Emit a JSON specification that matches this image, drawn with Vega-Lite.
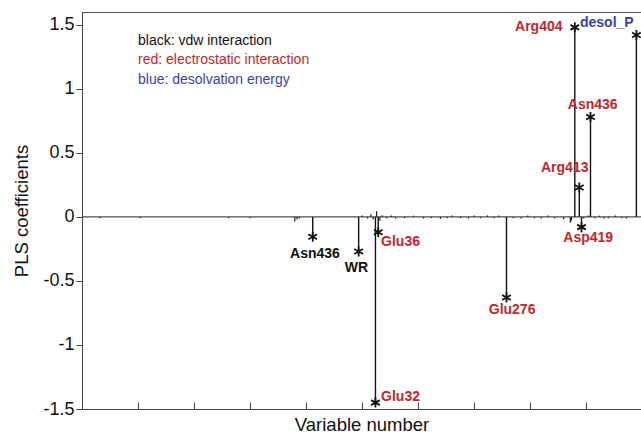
{
  "$schema": "https://vega.github.io/schema/vega-lite/v6.json",
  "width": 559,
  "height": 397,
  "autosize": "none",
  "padding": {"left": 82, "top": 12, "right": 0, "bottom": 27},
  "background": "white",
  "config": {
    "view": {"stroke": "#555", "strokeWidth": 1},
    "font": "Liberation Sans",
    "axis": {"grid": false, "domainColor": "#444", "tickColor": "#444", "labelColor": "#111", "titleColor": "#111", "titleFontWeight": "normal", "titleFont": "Liberation Sans", "labelFont": "Liberation Sans"}
  },
  "datasets": {
    "stems": [
      {"v": 206, "coef": -0.155, "name": "Asn436"},
      {"v": 247, "coef": -0.27, "name": "WR"},
      {"v": 262, "coef": -1.45, "name": "Glu32"},
      {"v": 264.5, "coef": -0.12, "name": "Glu36"},
      {"v": 379, "coef": -0.63, "name": "Glu276"},
      {"v": 440, "coef": 1.48, "name": "Arg404"},
      {"v": 444, "coef": 0.23, "name": "Arg413"},
      {"v": 446, "coef": -0.08, "name": "Asp419"},
      {"v": 454, "coef": 0.78, "name": "Asn436"},
      {"v": 495, "coef": 1.42, "name": "desol_P"}
    ],
    "noise": [
      {"v": 16, "coef": -0.01}, {"v": 52, "coef": -0.01}, {"v": 131, "coef": -0.01}, {"v": 150, "coef": -0.01},
      {"v": 190, "coef": -0.035}, {"v": 192, "coef": -0.02}, {"v": 194, "coef": -0.012},
      {"v": 250, "coef": 0.01}, {"v": 255, "coef": -0.012}, {"v": 258, "coef": 0.02}, {"v": 260, "coef": -0.02},
      {"v": 263, "coef": 0.045}, {"v": 266, "coef": -0.03}, {"v": 268, "coef": 0.012}, {"v": 272, "coef": -0.01},
      {"v": 276, "coef": 0.01}, {"v": 280, "coef": -0.012}, {"v": 288, "coef": -0.01}, {"v": 296, "coef": 0.01},
      {"v": 305, "coef": -0.012}, {"v": 312, "coef": -0.01}, {"v": 320, "coef": -0.015}, {"v": 326, "coef": -0.01},
      {"v": 330, "coef": 0.01}, {"v": 338, "coef": -0.01}, {"v": 345, "coef": -0.012}, {"v": 350, "coef": 0.01},
      {"v": 356, "coef": -0.01}, {"v": 362, "coef": 0.012}, {"v": 368, "coef": -0.01}, {"v": 372, "coef": 0.01},
      {"v": 385, "coef": -0.01}, {"v": 392, "coef": -0.012}, {"v": 398, "coef": 0.01}, {"v": 404, "coef": -0.01},
      {"v": 410, "coef": -0.012}, {"v": 416, "coef": 0.01}, {"v": 422, "coef": -0.01}, {"v": 430, "coef": -0.02},
      {"v": 436, "coef": -0.045}, {"v": 437, "coef": -0.03}, {"v": 448, "coef": -0.012}, {"v": 452, "coef": 0.01},
      {"v": 458, "coef": -0.01}, {"v": 462, "coef": 0.01}, {"v": 466, "coef": -0.012}, {"v": 470, "coef": -0.01},
      {"v": 476, "coef": 0.01}, {"v": 482, "coef": -0.01}, {"v": 486, "coef": -0.012}
    ],
    "labelsCenter": [
      {"v": 208, "coef": -0.29, "text": "Asn436", "type": "vdw"},
      {"v": 245, "coef": -0.40, "text": "WR", "type": "vdw"},
      {"v": 384, "coef": -0.73, "text": "Glu276", "type": "elec"},
      {"v": 431, "coef": 0.38, "text": "Arg413", "type": "elec"},
      {"v": 456, "coef": 0.875, "text": "Asn436", "type": "elec"},
      {"v": 452, "coef": -0.165, "text": "Asp419", "type": "elec"}
    ],
    "labelsLeft": [
      {"v": 267, "coef": -0.195, "text": "Glu36", "type": "elec"},
      {"v": 267, "coef": -1.405, "text": "Glu32", "type": "elec"},
      {"v": 444.6, "coef": 1.515, "text": "desol_P", "type": "desol"}
    ],
    "labelsRight": [
      {"v": 429, "coef": 1.485, "text": "Arg404", "type": "elec"}
    ],
    "legend": [
      {"v": 50, "coef": 1.375, "text": "black: vdw interaction", "type": "vdw"},
      {"v": 50, "coef": 1.225, "text": "red: electrostatic interaction", "type": "elec"},
      {"v": 50, "coef": 1.07, "text": "blue: desolvation energy", "type": "desol"}
    ]
  },
  "layer": [
    {
      "data": {"name": "stems"},
      "mark": {"type": "rule", "color": "#111", "strokeWidth": 1.4},
      "encoding": {
        "x": {"field": "v", "type": "quantitative", "scale": {"domain": [0, 499.1], "nice": false, "zero": false},
          "axis": {"values": [0, 50, 100, 150, 200, 250, 300, 350, 400, 450], "labels": false, "tickSize": -7, "title": "Variable number", "titleFontSize": 18.5, "titlePadding": 6}},
        "y": {"field": "coef", "type": "quantitative", "scale": {"domain": [-1.5, 1.6], "nice": false, "zero": false},
          "axis": {"values": [-1.5, -1, -0.5, 0, 0.5, 1, 1.5], "labelExpr": "'' + datum.value", "labelFontSize": 18, "tickSize": 6, "labelPadding": 2, "title": "PLS coefficients", "titleFontSize": 18.5, "titlePadding": 11}},
        "y2": {"datum": 0}
      }
    },
    {
      "data": {"values": [{}]},
      "mark": {"type": "rule", "color": "#222", "strokeWidth": 1},
      "encoding": {"y": {"datum": 0}}
    },
    {
      "data": {"name": "noise"},
      "mark": {"type": "rule", "color": "#222", "strokeWidth": 1.2},
      "encoding": {
        "x": {"field": "v", "type": "quantitative"},
        "y": {"field": "coef", "type": "quantitative"},
        "y2": {"datum": 0}
      }
    },
    {
      "data": {"name": "stems"},
      "mark": {"type": "point", "shape": "M0,-1L0,1M-0.87,-0.5L0.87,0.5M-0.87,0.5L0.87,-0.5", "size": 100, "filled": false, "stroke": "#111", "strokeWidth": 1.8, "opacity": 1},
      "encoding": {
        "x": {"field": "v", "type": "quantitative"},
        "y": {"field": "coef", "type": "quantitative"}
      }
    },
    {
      "data": {"name": "labelsCenter"},
      "mark": {"type": "text", "align": "center", "baseline": "middle", "fontSize": 14, "fontWeight": "bold"},
      "encoding": {
        "x": {"field": "v", "type": "quantitative"},
        "y": {"field": "coef", "type": "quantitative"},
        "text": {"field": "text"},
        "color": {"field": "type", "type": "nominal", "scale": {"domain": ["vdw", "elec", "desol"], "range": ["#111111", "#c1272d", "#3b3fa5"]}, "legend": null}
      }
    },
    {
      "data": {"name": "labelsLeft"},
      "mark": {"type": "text", "align": "left", "baseline": "middle", "fontSize": 14, "fontWeight": "bold"},
      "encoding": {
        "x": {"field": "v", "type": "quantitative"},
        "y": {"field": "coef", "type": "quantitative"},
        "text": {"field": "text"},
        "color": {"field": "type", "type": "nominal", "legend": null}
      }
    },
    {
      "data": {"name": "labelsRight"},
      "mark": {"type": "text", "align": "right", "baseline": "middle", "fontSize": 14, "fontWeight": "bold"},
      "encoding": {
        "x": {"field": "v", "type": "quantitative"},
        "y": {"field": "coef", "type": "quantitative"},
        "text": {"field": "text"},
        "color": {"field": "type", "type": "nominal", "legend": null}
      }
    },
    {
      "data": {"name": "legend"},
      "mark": {"type": "text", "align": "left", "baseline": "middle", "fontSize": 14},
      "encoding": {
        "x": {"field": "v", "type": "quantitative"},
        "y": {"field": "coef", "type": "quantitative"},
        "text": {"field": "text"},
        "color": {"field": "type", "type": "nominal", "legend": null}
      }
    }
  ]
}
